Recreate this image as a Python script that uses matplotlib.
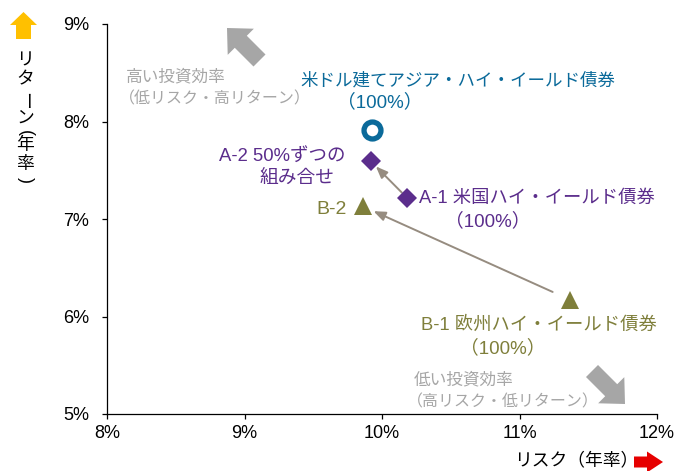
import matplotlib
matplotlib.use("Agg")
import matplotlib.pyplot as plt
from matplotlib.ticker import FuncFormatter

plt.rcParams['font.family'] = ['Liberation Sans', 'Noto Sans CJK JP']

# ---- data (risk %, return %) ----
asia_risk = [9.93]
asia_ret = [7.91]
a_risk = [9.92, 10.18]   # A-2, A-1
a_ret = [7.59, 7.22]
b_risk = [9.86, 11.37]   # B-2, B-1
b_ret = [7.13, 6.17]

x_ticks = [8, 9, 10, 11, 12]
y_ticks = [5, 6, 7, 8, 9]

asia_label = ["米ドル建てアジア・ハイ・イールド債券", "（100%）"]
a2_label = ["A-2 50%ずつの", "組み合せ"]
a1_label = ["A-1 米国ハイ・イールド債券", "（100%）"]
b2_label = "B-2"
b1_label = ["B-1 欧州ハイ・イールド債券", "（100%）"]
hi_eff = ["高い投資効率", "（低リスク・高リターン）"]
lo_eff = ["低い投資効率", "（高リスク・低リターン）"]
x_title = "リスク（年率）"
y_title = ["リ", "タ", "ー", "ン", "(", "年", "率", ")"]

blue_c = "#0B6A9A"
purple_c = "#5B2D8C"
olive_c = "#7F7F3B"
gray_text = "#A6A6A6"
arrow_c = "#968C80"
big_arrow_c = "#A6A6A6"

W, H = 674, 471
fig = plt.figure(figsize=(W / 100, H / 100), dpi=100)
ax = fig.add_axes([107 / W, 1 - 414 / H, 550 / W, 390 / H])
ax.set_xlim(x_ticks[0], x_ticks[-1])
ax.set_ylim(y_ticks[0], y_ticks[-1])
ax.set_xticks(x_ticks)
ax.set_yticks(y_ticks)
fmt = FuncFormatter(lambda v, p: f"{v:.0f}%")
ax.xaxis.set_major_formatter(fmt)
ax.yaxis.set_major_formatter(fmt)
for s in ["top", "right"]:
    ax.spines[s].set_visible(False)
for s in ["left", "bottom"]:
    ax.spines[s].set_linewidth(0.9)
ax.tick_params(axis='both', direction='out', length=3.8, width=0.9, labelsize=13)
ax.tick_params(axis='x', pad=4)
ax.tick_params(axis='y', pad=9)

# connecting arrows
ax.annotate("", xy=(a_risk[0], a_ret[0]), xytext=(a_risk[1], a_ret[1]),
            arrowprops=dict(arrowstyle="-|>,head_length=0.7,head_width=0.28",
                            color=arrow_c, lw=1.4, shrinkA=5, shrinkB=5))
ax.annotate("", xy=(b_risk[0], b_ret[0]), xytext=(b_risk[1], b_ret[1]),
            arrowprops=dict(arrowstyle="-|>,head_length=0.7,head_width=0.28",
                            color=arrow_c, lw=1.4, shrinkA=14, shrinkB=8.5))

# markers
ax.plot(asia_risk, asia_ret, 'o', ms=12.2, mfc='white', mec=blue_c, mew=3.8,
        zorder=5, clip_on=False)
ax.plot(a_risk, a_ret, 'D', ms=9.8, color=purple_c, mew=0, zorder=5, clip_on=False)
ax.plot(b_risk, b_ret, '^', ms=12.5, color=olive_c, mew=0, zorder=5, clip_on=False)


def fp(x, y):
    return (x / W, 1 - y / H)


def txt(x, y, s, color, ha='left', fs=13, **kw):
    fig.text(*fp(x, y), s, color=color, ha=ha, va='center', fontsize=fs, **kw)


# labels
txt(300, 80, asia_label[0], blue_c, fs=12.6)
txt(380, 102, asia_label[1], blue_c, ha='center', fs=13.5)
txt(282, 157, a2_label[0], purple_c, ha='center', fs=13.3)
txt(297, 178, a2_label[1], purple_c, ha='center', fs=13.5)
txt(419, 198, a1_label[0], purple_c, fs=13.2)
txt(488, 221, a1_label[1], purple_c, ha='center', fs=13.5)
txt(347, 210, b2_label, olive_c, ha='right', fs=14)
txt(421, 325, b1_label[0], olive_c, fs=13.2)
txt(503, 348, b1_label[1], olive_c, ha='center', fs=13.5)
txt(126, 77, hi_eff[0], gray_text, fs=12)
txt(119, 99, hi_eff[1], gray_text, fs=11.5)
txt(414, 380, lo_eff[0], gray_text, fs=12)
txt(407, 402, lo_eff[1], gray_text, fs=11.5)

# axis titles
txt(638, 461, x_title, "black", ha='right', fs=12.8)
ypos = [61, 80, 101, 118, 133, 146, 165, 180]
for ch, yy in zip(y_title, ypos):
    rot = -90 if ch in "ー()" else 0
    fig.text(*fp(25, yy), ch, ha='center', va='center', fontsize=12.8,
             rotation=rot, rotation_mode='anchor', color="black")


# block arrows
def block_arrow(tail, tip, color, hl, hw, tw):
    s = 10.0 * 100 / 72  # px per mutation unit
    fig.add_artist(matplotlib.patches.FancyArrowPatch(
        fp(*tail), fp(*tip), transform=fig.transFigure,
        arrowstyle=f"simple,head_length={hl / s},head_width={hw / s},tail_width={tw / s}",
        mutation_scale=10, color=color, lw=0, shrinkA=0, shrinkB=0))


block_arrow((259.5, 60.5), (227, 28), big_arrow_c, 19.5, 37, 17)
block_arrow((592, 371), (625, 404), big_arrow_c, 19.5, 37, 17)
block_arrow((23.5, 39), (23.5, 12), "#FFC000", 13, 27, 15)
block_arrow((634, 462), (663, 462), "#E60000", 16, 21, 11)

fig.savefig("out.png", dpi=100)
